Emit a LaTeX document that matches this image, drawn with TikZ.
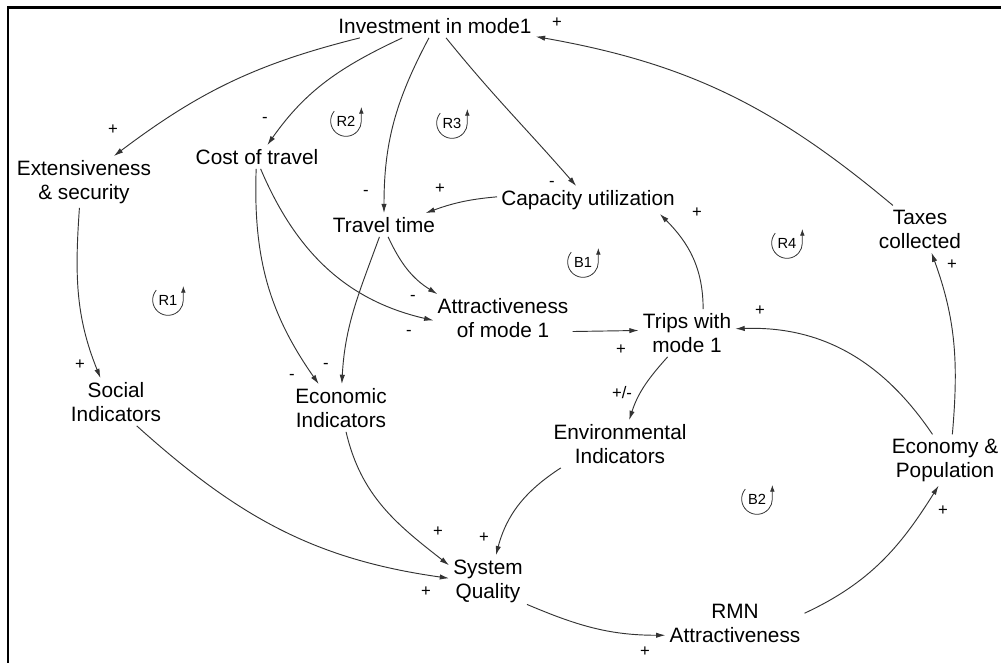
\documentclass[tikz,border=0pt]{standalone}
\usepackage{fontspec}
\setmainfont{Liberation Sans}
\usetikzlibrary{arrows.meta}

\tikzset{
  var/.style={font=\fontsize{15.6}{18}\selectfont, align=center, inner sep=3pt},
  link/.style={-{Latex[length=7pt,width=4pt]}, line width=0.7pt, color=black!80},
  sign/.style={font=\fontsize{12.5}{14}\selectfont, inner sep=0pt},
  loopname/.style={font=\fontsize{11}{12}\selectfont, inner sep=0pt},
  loopline/.style={-{Latex[length=5pt,width=3.5pt]}, line width=0.6pt, color=black!80}
}

\begin{document}
\begin{tikzpicture}[x=0.75pt,y=-0.75pt]
\useasboundingbox (0,0) rectangle (1001,663);
\draw[line width=1.8pt] (8,663) -- (8,7.5) -- (1001,7.5);

\node[var] (inv) at (435,26) {Investment in mode1};
\node[var] (ext) at (84,182) {Extensiveness\\\& security};
\node[var] (cost) at (257,157) {Cost of travel};
\node[var] (tt) at (384,225) {Travel time};
\node[var] (cap) at (588,200) {Capacity utilization};
\node[var] (attr) at (503,318) {Attractiveness\\of mode 1};
\node[var] (trips) at (687,333) {Trips with\\mode 1};
\node[var] (soc) at (116,402) {Social\\Indicators};
\node[var] (eco) at (341,408) {Economic\\Indicators};
\node[var] (env) at (620,444) {Environmental\\Indicators};
\node[var] (econ) at (945,460) {Economy \&\\Population};
\node[var] (tax) at (920,229) {Taxes\\collected};
\node[var] (sq) at (488,581) {System\\Quality};
\node[var] (rmn) at (735,623) {RMN\\Attractiveness};

\draw[link] (inv.189) to[out=194,in=37] (ext.41);
\draw[link] (inv.200) to[out=205,in=55] (cost.49);
\draw[link] (inv.243) to[out=242,in=90] (tt.90);
\draw[link] (inv.313) to[out=309,in=131] (cap.130);
\draw[link] (tax.139) to[out=140,in=350] (inv.354);
\draw[link] (cap.178) to[out=185,in=20] (tt.16);
\draw[link] (trips.56) to[out=90,in=315] (cap.349);
\draw[link] (cost.266) to[out=268,in=125] (eco.133);
\draw[link] (cost.287) to[out=293,in=167] (attr.182);
\draw[link] (tt.289) to[out=295,in=148] (attr.160);
\draw[link] (tt.249) to[out=250,in=87] (eco.88);
\draw[link] (attr.349) -- (trips.177);
\draw[link] (econ.116) to[out=124,in=2] (trips.5);
\draw[link] (econ.74) to[out=85,in=290] (tax.296);
\draw[link] (trips.231) to[out=228,in=72] (env.69);
\draw[link] (env.202) to[out=213,in=75] (sq.73);
\draw[link] (eco.282) to[out=283,in=142] (sq.158);
\draw[link] (soc.311) to[out=318,in=172] (sq.176);
\draw[link] (ext.260) to[out=266,in=112] (soc.123);
\draw[link] (sq.329) to[out=337,in=180] (rmn.190);
\draw[link] (rmn.8) to[out=25,in=238] (econ.256);

\node[sign] (s1) at (113,130) {+};
\node[sign] (s2) at (265,120) {-};
\node[sign] (s3) at (366,193) {-};
\node[sign] (s4) at (552,184) {-};
\node[sign] (s5) at (557,23) {+};
\node[sign] (s6) at (440,189) {+};
\node[sign] (s7) at (697,213) {+};
\node[sign] (s8) at (292,377) {-};
\node[sign] (s9) at (409,333) {-};
\node[sign] (s10) at (413,298) {-};
\node[sign] (s11) at (326,366) {-};
\node[sign] (s12) at (621,350) {+};
\node[sign] (s13) at (760,311) {+};
\node[sign] (s14) at (952,265) {+};
\node[sign] (s15) at (622,393) {+/-};
\node[sign] (s16) at (484,538) {+};
\node[sign] (s17) at (438,532) {+};
\node[sign] (s18) at (426,592) {+};
\node[sign] (s19) at (80,365) {+};
\node[sign] (s20) at (645,652) {+};
\node[sign] (s21) at (943,511) {+};

\node[loopname] (R1) at (168,300) {R1};
\draw[loopline] ([shift={(140:11.5pt)}]R1.center) arc[start angle=140,end angle=360,radius=11.5pt] -- ++(0,-14);
\node[loopname] (R2) at (346,121) {R2};
\draw[loopline] ([shift={(140:11.5pt)}]R2.center) arc[start angle=140,end angle=360,radius=11.5pt] -- ++(0,-14);
\node[loopname] (R3) at (452,123) {R3};
\draw[loopline] ([shift={(140:11.5pt)}]R3.center) arc[start angle=140,end angle=360,radius=11.5pt] -- ++(0,-14);
\node[loopname] (B1) at (583,262) {B1};
\draw[loopline] ([shift={(140:11.5pt)}]B1.center) arc[start angle=140,end angle=360,radius=11.5pt] -- ++(0,-14);
\node[loopname] (R4) at (787,243) {R4};
\draw[loopline] ([shift={(140:11.5pt)}]R4.center) arc[start angle=140,end angle=360,radius=11.5pt] -- ++(0,-14);
\node[loopname] (B2) at (757,499) {B2};
\draw[loopline] ([shift={(140:11.5pt)}]B2.center) arc[start angle=140,end angle=360,radius=11.5pt] -- ++(0,-14);

\end{tikzpicture}
\end{document}
